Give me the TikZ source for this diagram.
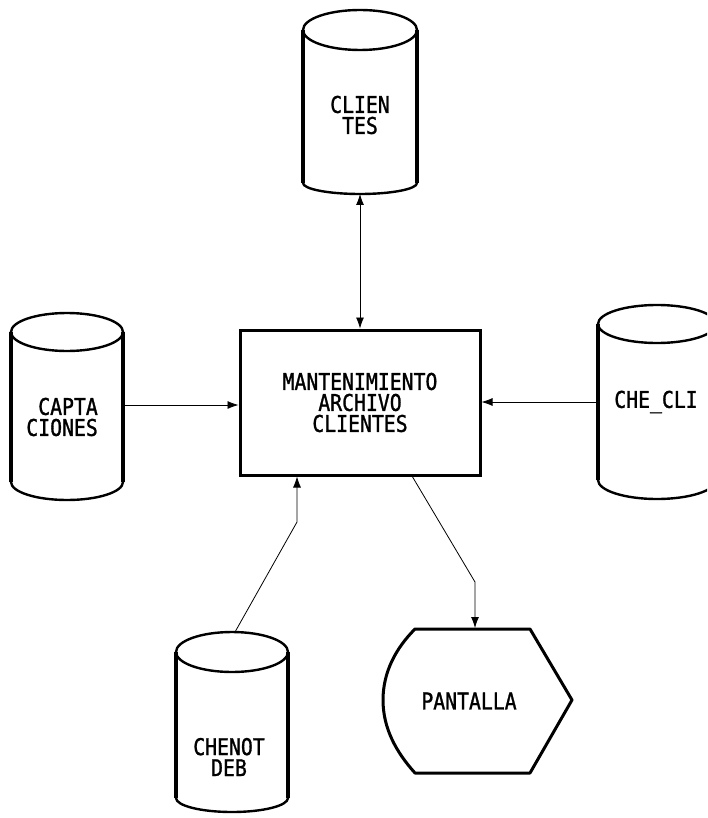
\documentclass[tikz,border=0pt]{standalone}
\usepackage{fontspec}
\newfontfamily\dotfont[FakeStretch=0.86, FakeBold=1.2]{DejaVu Sans Mono}
\usetikzlibrary{arrows.meta}
\newcommand\drawcyl[6]{% cx, y top, y bottom, rx, ry top, ry bottom
  \draw[rim] (#1,#2) ellipse [x radius=#4, y radius=#5];
  \draw[wall] (#1-#4,#2) -- (#1-#4,#3);
  \draw[wall] (#1+#4,#2) -- (#1+#4,#3);
  \draw[rim] (#1-#4,#3) arc [start angle=180, end angle=0, x radius=#4, y radius=#6];
}
\tikzset{
  rim/.style={line width=2.4pt, line cap=round},
  wall/.style={line width=3.6pt},
  txt/.style={font=\dotfont\fontsize{23}{21}\selectfont, inner sep=0pt, align=center},
  boxst/.style={draw, line width=3pt, minimum width=240pt, minimum height=145pt, inner sep=0pt,
    font=\dotfont\fontsize{23}{21}\selectfont, align=center},
  hexst/.style={line width=3pt, line join=round},
  conn/.style={line width=0.8pt},
  tip/.style={-{Latex[length=11pt,width=8pt]}},
  dtip/.style={{Latex[length=11pt,width=8pt]}-{Latex[length=11pt,width=8pt]}}
}
\begin{document}
\begin{tikzpicture}[x=1pt,y=-1pt]
\clip (0,0) rectangle (707,818);
\fill[white] (0,0) rectangle (707,818);

% cylinders
\drawcyl{360}{30}{183}{57}{20}{11}
\node[txt] (tcli) at (360,115) {CLIEN\\TES};
\coordinate (cli-s) at (360,194);

\drawcyl{67}{332}{482}{56}{19}{18}
\node[txt, align=right, anchor=east] (tcap) at (98,417) {CAPTA\\CIONES};
\coordinate (cap-e) at (125,405);

\drawcyl{657}{324}{480}{59}{19}{19}
\node[txt] (tche) at (656,402) {CHE\_CLI};
\coordinate (che-w) at (596,402);

\drawcyl{232}{652}{798}{56}{20}{14}
\node[txt] (tdeb) at (229,757) {CHENOT\\DEB};
\coordinate (deb-n) at (235,632);
\coordinate (deb-k) at (297,522);

% process box
\node[boxst] (box) at (360,402.5) {MANTENIMIENTO\\ARCHIVO\\CLIENTES};
\coordinate (box-p) at (412,476);

% display shape
\draw[hexst] (415,629) -- (530,629) -- (572,700) -- (530,773) -- (415,773)
  .. controls (396,752) and (383,728) .. (383,700)
  .. controls (383,672) and (396,648) .. (415,629) -- cycle;
\node[txt] (pan) at (469,701) {PANTALLA};
\coordinate (pan-n) at (475,628);
\coordinate (pan-k) at (475,582);

% connectors
\draw[conn,dtip] (cli-s) -- (box.north);
\draw[conn,tip] (cap-e) -- (cap-e -| box.west);
\draw[conn,tip] (che-w) -- (che-w -| box.east);
\draw[conn,tip] (deb-n) -- (deb-k) -- (deb-k |- box.south);
\draw[conn,tip] (box-p) -- (pan-k) -- (pan-n);
\end{tikzpicture}
\end{document}
